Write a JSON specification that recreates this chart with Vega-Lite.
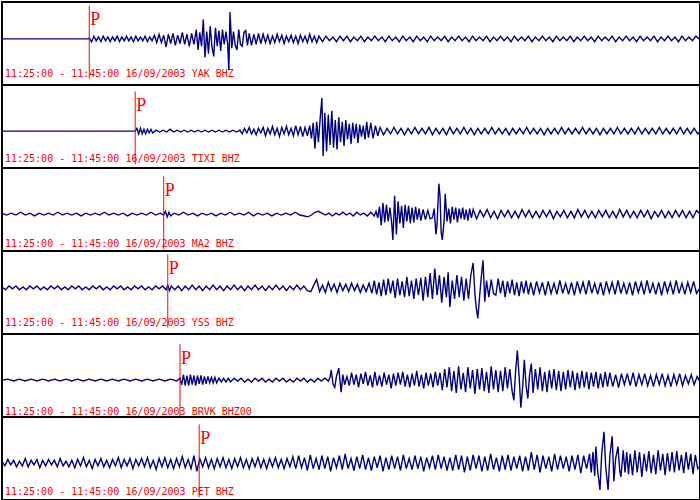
{
"$schema":"https://vega.github.io/schema/vega-lite/v6.json",
"padding":{"left":1,"right":1,"top":1,"bottom":1},
"spacing":0,
"bounds":"flush",
"config":{"view":{"stroke":"#000000","strokeWidth":2},"line":{"strokeWidth":1.4}},
"datasets":{
"yak":[{"t":0,"a":0},{"t":148,"a":0},{"t":150,"a":1},{"t":154,"a":-3},{"t":158,"a":3},{"t":162,"a":-2},{"t":166,"a":2},{"t":170,"a":-3},{"t":174,"a":3},{"t":178,"a":-2},{"t":182,"a":2},{"t":186,"a":-3},{"t":190,"a":2},{"t":194,"a":-2},{"t":198,"a":3},{"t":202,"a":-3},{"t":206,"a":2},{"t":210,"a":-2},{"t":214,"a":3},{"t":218,"a":-2},{"t":222,"a":2},{"t":226,"a":-3},{"t":230,"a":3},{"t":234,"a":-2},{"t":238,"a":2},{"t":242,"a":-2},{"t":246,"a":3},{"t":250,"a":-3},{"t":254,"a":2},{"t":258,"a":-2},{"t":262,"a":4},{"t":266,"a":-4},{"t":270,"a":5},{"t":274,"a":-4},{"t":278,"a":4},{"t":282,"a":-9},{"t":286,"a":5},{"t":290,"a":-5},{"t":294,"a":6},{"t":298,"a":-7},{"t":302,"a":4},{"t":306,"a":-5},{"t":310,"a":7},{"t":314,"a":-6},{"t":318,"a":5},{"t":322,"a":-8},{"t":326,"a":6},{"t":330,"a":-6},{"t":334,"a":10},{"t":337,"a":-12},{"t":340,"a":7},{"t":343,"a":-8},{"t":346,"a":21},{"t":349,"a":-20},{"t":352,"a":8},{"t":355,"a":-16},{"t":358,"a":14},{"t":361,"a":-9},{"t":364,"a":-19},{"t":367,"a":12},{"t":370,"a":-8},{"t":373,"a":9},{"t":376,"a":-13},{"t":379,"a":10},{"t":382,"a":-6},{"t":385,"a":8},{"t":388,"a":-6},{"t":390,"a":-34},{"t":392,"a":29},{"t":395,"a":-10},{"t":398,"a":8},{"t":401,"a":-7},{"t":404,"a":-12},{"t":407,"a":10},{"t":410,"a":-6},{"t":413,"a":-8},{"t":416,"a":7},{"t":419,"a":9},{"t":422,"a":-7},{"t":425,"a":6},{"t":429,"a":-7},{"t":433,"a":5},{"t":437,"a":-6},{"t":441,"a":6},{"t":445,"a":-5},{"t":449,"a":5},{"t":453,"a":-4},{"t":457,"a":4},{"t":461,"a":-5},{"t":465,"a":3},{"t":469,"a":-4},{"t":473,"a":5},{"t":477,"a":-3},{"t":481,"a":4},{"t":485,"a":-5},{"t":489,"a":3},{"t":493,"a":-3},{"t":497,"a":4},{"t":501,"a":-4},{"t":505,"a":3},{"t":509,"a":-5},{"t":513,"a":4},{"t":517,"a":-3},{"t":521,"a":3},{"t":525,"a":-4},{"t":529,"a":5},{"t":533,"a":-3},{"t":537,"a":3},{"t":541,"a":-4},{"t":545,"a":3},{"t":551,"a":-3},{"t":557,"a":3},{"t":563,"a":-2},{"t":569,"a":2},{"t":575,"a":-3},{"t":581,"a":3},{"t":587,"a":-2},{"t":593,"a":3},{"t":599,"a":-3},{"t":605,"a":2},{"t":611,"a":-2},{"t":617,"a":3},{"t":623,"a":-3},{"t":629,"a":2},{"t":635,"a":-2},{"t":641,"a":3},{"t":647,"a":-2},{"t":653,"a":2},{"t":659,"a":-3},{"t":665,"a":3},{"t":671,"a":-2},{"t":677,"a":2},{"t":683,"a":-3},{"t":689,"a":3},{"t":695,"a":-2},{"t":701,"a":2},{"t":707,"a":-3},{"t":713,"a":3},{"t":719,"a":-2},{"t":725,"a":2},{"t":731,"a":-3},{"t":737,"a":3},{"t":743,"a":-2},{"t":749,"a":2},{"t":755,"a":-2},{"t":761,"a":3},{"t":767,"a":-3},{"t":773,"a":2},{"t":779,"a":-2},{"t":785,"a":3},{"t":791,"a":-2},{"t":797,"a":2},{"t":803,"a":-3},{"t":809,"a":3},{"t":815,"a":-2},{"t":821,"a":2},{"t":827,"a":-2},{"t":833,"a":3},{"t":839,"a":-3},{"t":845,"a":2},{"t":851,"a":-2},{"t":857,"a":3},{"t":863,"a":-2},{"t":869,"a":2},{"t":875,"a":-3},{"t":881,"a":3},{"t":887,"a":-2},{"t":893,"a":2},{"t":899,"a":-2},{"t":905,"a":3},{"t":911,"a":-3},{"t":917,"a":2},{"t":923,"a":-2},{"t":929,"a":3},{"t":935,"a":-2},{"t":941,"a":2},{"t":947,"a":-3},{"t":953,"a":3},{"t":959,"a":-2},{"t":965,"a":2},{"t":971,"a":-2},{"t":977,"a":3},{"t":983,"a":-3},{"t":989,"a":2},{"t":995,"a":-2},{"t":1001,"a":3},{"t":1007,"a":-2},{"t":1013,"a":2},{"t":1019,"a":-3},{"t":1025,"a":3},{"t":1031,"a":-2},{"t":1037,"a":2},{"t":1043,"a":-2},{"t":1049,"a":3},{"t":1055,"a":-3},{"t":1061,"a":2},{"t":1067,"a":-2},{"t":1073,"a":3},{"t":1079,"a":-2},{"t":1085,"a":2},{"t":1091,"a":-3},{"t":1097,"a":3},{"t":1103,"a":-2},{"t":1109,"a":2},{"t":1115,"a":-2},{"t":1121,"a":3},{"t":1127,"a":-3},{"t":1133,"a":2},{"t":1139,"a":-2},{"t":1145,"a":3},{"t":1151,"a":-2},{"t":1157,"a":2},{"t":1163,"a":-3},{"t":1169,"a":3},{"t":1175,"a":-2},{"t":1181,"a":2},{"t":1187,"a":-2},{"t":1193,"a":3},{"t":1200,"a":-1}],
"tixi":[{"t":0,"a":0},{"t":229,"a":0},{"t":232,"a":3},{"t":235,"a":-3},{"t":238,"a":3},{"t":241,"a":-3},{"t":244,"a":2},{"t":247,"a":-3},{"t":250,"a":2},{"t":253,"a":-2},{"t":256,"a":2},{"t":259,"a":-2},{"t":265,"a":1},{"t":271,"a":-1},{"t":277,"a":1},{"t":283,"a":-1},{"t":289,"a":2},{"t":295,"a":-1},{"t":301,"a":1},{"t":307,"a":-1},{"t":313,"a":1},{"t":319,"a":-1},{"t":325,"a":1},{"t":331,"a":-1},{"t":337,"a":1},{"t":343,"a":-1},{"t":349,"a":1},{"t":355,"a":-1},{"t":361,"a":1},{"t":367,"a":-1},{"t":373,"a":1},{"t":379,"a":-1},{"t":385,"a":1},{"t":391,"a":-1},{"t":397,"a":1},{"t":403,"a":-1},{"t":409,"a":1},{"t":413,"a":-3},{"t":417,"a":3},{"t":421,"a":-2},{"t":425,"a":4},{"t":429,"a":-3},{"t":433,"a":2},{"t":437,"a":-4},{"t":441,"a":3},{"t":445,"a":-2},{"t":449,"a":4},{"t":453,"a":-5},{"t":457,"a":3},{"t":461,"a":-3},{"t":465,"a":5},{"t":469,"a":-4},{"t":473,"a":3},{"t":477,"a":-6},{"t":481,"a":4},{"t":485,"a":-3},{"t":489,"a":5},{"t":493,"a":-4},{"t":497,"a":3},{"t":501,"a":-5},{"t":505,"a":6},{"t":509,"a":-4},{"t":513,"a":5},{"t":517,"a":-6},{"t":521,"a":4},{"t":525,"a":-5},{"t":529,"a":6},{"t":532,"a":-8},{"t":535,"a":9},{"t":538,"a":-19},{"t":541,"a":10},{"t":544,"a":-12},{"t":547,"a":14},{"t":550,"a":36},{"t":552,"a":-27},{"t":555,"a":20},{"t":558,"a":-22},{"t":561,"a":18},{"t":564,"a":-15},{"t":567,"a":22},{"t":570,"a":-18},{"t":573,"a":12},{"t":576,"a":-20},{"t":579,"a":15},{"t":582,"a":-12},{"t":585,"a":10},{"t":588,"a":-16},{"t":591,"a":12},{"t":594,"a":-9},{"t":597,"a":8},{"t":600,"a":-14},{"t":603,"a":9},{"t":606,"a":-8},{"t":609,"a":8},{"t":612,"a":-13},{"t":615,"a":7},{"t":618,"a":-6},{"t":621,"a":6},{"t":624,"a":-9},{"t":627,"a":10},{"t":630,"a":-7},{"t":634,"a":9},{"t":638,"a":-8},{"t":642,"a":6},{"t":646,"a":-5},{"t":650,"a":4},{"t":656,"a":-4},{"t":662,"a":3},{"t":668,"a":-3},{"t":674,"a":4},{"t":680,"a":-3},{"t":686,"a":3},{"t":692,"a":-4},{"t":698,"a":3},{"t":704,"a":-3},{"t":710,"a":4},{"t":716,"a":-3},{"t":722,"a":3},{"t":728,"a":-3},{"t":734,"a":4},{"t":740,"a":-4},{"t":746,"a":3},{"t":752,"a":-3},{"t":758,"a":3},{"t":764,"a":-4},{"t":770,"a":4},{"t":776,"a":-3},{"t":782,"a":3},{"t":788,"a":-3},{"t":794,"a":4},{"t":800,"a":-3},{"t":806,"a":3},{"t":812,"a":-4},{"t":818,"a":3},{"t":824,"a":-3},{"t":830,"a":3},{"t":836,"a":-3},{"t":842,"a":4},{"t":848,"a":-3},{"t":854,"a":3},{"t":860,"a":-3},{"t":866,"a":3},{"t":872,"a":-4},{"t":878,"a":3},{"t":884,"a":-3},{"t":890,"a":3},{"t":896,"a":-3},{"t":902,"a":4},{"t":908,"a":-3},{"t":914,"a":3},{"t":920,"a":-3},{"t":926,"a":3},{"t":932,"a":-4},{"t":938,"a":3},{"t":944,"a":-3},{"t":950,"a":3},{"t":956,"a":-3},{"t":962,"a":4},{"t":968,"a":-3},{"t":974,"a":3},{"t":980,"a":-3},{"t":986,"a":3},{"t":992,"a":-3},{"t":998,"a":4},{"t":1004,"a":-3},{"t":1010,"a":3},{"t":1016,"a":-3},{"t":1022,"a":3},{"t":1028,"a":-4},{"t":1034,"a":3},{"t":1040,"a":-3},{"t":1046,"a":3},{"t":1052,"a":-3},{"t":1058,"a":4},{"t":1064,"a":-3},{"t":1070,"a":3},{"t":1076,"a":-3},{"t":1082,"a":3},{"t":1088,"a":-3},{"t":1094,"a":4},{"t":1100,"a":-3},{"t":1106,"a":3},{"t":1112,"a":-3},{"t":1118,"a":3},{"t":1124,"a":-3},{"t":1130,"a":4},{"t":1136,"a":-3},{"t":1142,"a":3},{"t":1148,"a":-3},{"t":1154,"a":3},{"t":1160,"a":-3},{"t":1166,"a":4},{"t":1172,"a":-3},{"t":1178,"a":3},{"t":1184,"a":-3},{"t":1190,"a":3},{"t":1196,"a":-3},{"t":1200,"a":0}],
"ma2":[{"t":0,"a":1},{"t":8,"a":-1},{"t":16,"a":1},{"t":24,"a":-1},{"t":32,"a":2},{"t":40,"a":-1},{"t":48,"a":1},{"t":56,"a":-2},{"t":64,"a":1},{"t":72,"a":-1},{"t":80,"a":1},{"t":88,"a":-1},{"t":96,"a":2},{"t":104,"a":-1},{"t":112,"a":1},{"t":120,"a":-1},{"t":128,"a":1},{"t":136,"a":-2},{"t":144,"a":1},{"t":152,"a":-1},{"t":160,"a":1},{"t":168,"a":-1},{"t":176,"a":2},{"t":184,"a":-1},{"t":192,"a":1},{"t":200,"a":-1},{"t":208,"a":1},{"t":216,"a":-2},{"t":224,"a":1},{"t":232,"a":-1},{"t":240,"a":1},{"t":248,"a":-1},{"t":256,"a":2},{"t":264,"a":-1},{"t":272,"a":1},{"t":278,"a":-1},{"t":281,"a":3},{"t":284,"a":-3},{"t":287,"a":2},{"t":290,"a":-2},{"t":296,"a":1},{"t":304,"a":-1},{"t":312,"a":2},{"t":320,"a":-1},{"t":328,"a":1},{"t":336,"a":-2},{"t":344,"a":1},{"t":352,"a":-1},{"t":360,"a":1},{"t":368,"a":-2},{"t":376,"a":1},{"t":384,"a":-1},{"t":392,"a":2},{"t":400,"a":-1},{"t":408,"a":1},{"t":416,"a":-1},{"t":424,"a":2},{"t":432,"a":-2},{"t":440,"a":1},{"t":448,"a":-1},{"t":456,"a":1},{"t":464,"a":-2},{"t":472,"a":1},{"t":480,"a":-1},{"t":488,"a":1},{"t":496,"a":-1},{"t":504,"a":2},{"t":512,"a":-1},{"t":520,"a":-2},{"t":526,"a":-3},{"t":532,"a":-1},{"t":538,"a":2},{"t":544,"a":3},{"t":550,"a":1},{"t":556,"a":-1},{"t":562,"a":1},{"t":568,"a":-2},{"t":574,"a":1},{"t":580,"a":-1},{"t":586,"a":2},{"t":592,"a":-1},{"t":598,"a":1},{"t":604,"a":-2},{"t":610,"a":2},{"t":616,"a":-1},{"t":622,"a":1},{"t":628,"a":-2},{"t":634,"a":2},{"t":640,"a":-2},{"t":643,"a":3},{"t":646,"a":-4},{"t":649,"a":8},{"t":652,"a":-12},{"t":655,"a":12},{"t":658,"a":-9},{"t":661,"a":10},{"t":664,"a":-8},{"t":667,"a":7},{"t":670,"a":-10},{"t":672,"a":-28},{"t":675,"a":20},{"t":678,"a":-22},{"t":681,"a":14},{"t":684,"a":-10},{"t":687,"a":9},{"t":690,"a":-15},{"t":693,"a":10},{"t":696,"a":-8},{"t":699,"a":9},{"t":702,"a":-10},{"t":705,"a":7},{"t":708,"a":-9},{"t":711,"a":8},{"t":714,"a":-6},{"t":717,"a":6},{"t":720,"a":-7},{"t":724,"a":5},{"t":728,"a":-6},{"t":732,"a":4},{"t":736,"a":-5},{"t":740,"a":-4},{"t":743,"a":6},{"t":746,"a":-22},{"t":748,"a":-10},{"t":751,"a":33},{"t":753,"a":20},{"t":755,"a":-20},{"t":757,"a":-28},{"t":760,"a":-8},{"t":762,"a":22},{"t":765,"a":-8},{"t":768,"a":6},{"t":771,"a":-10},{"t":774,"a":8},{"t":777,"a":-6},{"t":780,"a":7},{"t":783,"a":-9},{"t":786,"a":6},{"t":789,"a":-5},{"t":792,"a":7},{"t":795,"a":-6},{"t":798,"a":5},{"t":801,"a":-7},{"t":804,"a":6},{"t":807,"a":-4},{"t":810,"a":5},{"t":816,"a":-5},{"t":822,"a":4},{"t":828,"a":-3},{"t":834,"a":5},{"t":840,"a":-4},{"t":846,"a":3},{"t":852,"a":-5},{"t":858,"a":4},{"t":864,"a":-3},{"t":870,"a":4},{"t":876,"a":-4},{"t":882,"a":3},{"t":888,"a":-4},{"t":894,"a":5},{"t":900,"a":-3},{"t":906,"a":4},{"t":912,"a":-4},{"t":918,"a":3},{"t":924,"a":-4},{"t":930,"a":4},{"t":936,"a":-3},{"t":942,"a":4},{"t":948,"a":-5},{"t":954,"a":3},{"t":960,"a":-3},{"t":966,"a":4},{"t":972,"a":-4},{"t":978,"a":3},{"t":984,"a":-4},{"t":990,"a":5},{"t":996,"a":-3},{"t":1002,"a":4},{"t":1008,"a":-4},{"t":1014,"a":3},{"t":1020,"a":-4},{"t":1026,"a":4},{"t":1032,"a":-3},{"t":1038,"a":4},{"t":1044,"a":-4},{"t":1050,"a":3},{"t":1056,"a":-4},{"t":1062,"a":5},{"t":1068,"a":-3},{"t":1074,"a":4},{"t":1080,"a":-4},{"t":1086,"a":3},{"t":1092,"a":-4},{"t":1098,"a":4},{"t":1104,"a":-3},{"t":1110,"a":4},{"t":1116,"a":-5},{"t":1122,"a":3},{"t":1128,"a":-3},{"t":1134,"a":4},{"t":1140,"a":-4},{"t":1146,"a":3},{"t":1152,"a":-4},{"t":1158,"a":4},{"t":1164,"a":-3},{"t":1170,"a":4},{"t":1176,"a":-4},{"t":1182,"a":3},{"t":1188,"a":-4},{"t":1194,"a":4},{"t":1200,"a":0}],
"yss":[{"t":0,"a":1},{"t":6,"a":-2},{"t":12,"a":2},{"t":18,"a":-1},{"t":24,"a":2},{"t":30,"a":-2},{"t":36,"a":1},{"t":42,"a":-2},{"t":48,"a":2},{"t":54,"a":-1},{"t":60,"a":2},{"t":66,"a":-2},{"t":72,"a":1},{"t":78,"a":-2},{"t":84,"a":2},{"t":90,"a":-1},{"t":96,"a":2},{"t":102,"a":-2},{"t":108,"a":1},{"t":114,"a":-2},{"t":120,"a":2},{"t":126,"a":-1},{"t":132,"a":2},{"t":138,"a":-2},{"t":144,"a":1},{"t":150,"a":-2},{"t":156,"a":2},{"t":162,"a":-1},{"t":168,"a":2},{"t":174,"a":-2},{"t":180,"a":1},{"t":186,"a":-2},{"t":192,"a":2},{"t":198,"a":-1},{"t":204,"a":2},{"t":210,"a":-2},{"t":216,"a":1},{"t":222,"a":-2},{"t":228,"a":2},{"t":234,"a":-1},{"t":240,"a":2},{"t":246,"a":-2},{"t":252,"a":1},{"t":258,"a":-2},{"t":264,"a":2},{"t":270,"a":-1},{"t":276,"a":2},{"t":282,"a":-2},{"t":285,"a":3},{"t":288,"a":-3},{"t":291,"a":2},{"t":297,"a":-2},{"t":303,"a":2},{"t":309,"a":-3},{"t":315,"a":2},{"t":321,"a":-2},{"t":327,"a":3},{"t":333,"a":-2},{"t":339,"a":2},{"t":345,"a":-3},{"t":351,"a":2},{"t":357,"a":-2},{"t":363,"a":3},{"t":369,"a":-2},{"t":375,"a":2},{"t":381,"a":-3},{"t":387,"a":2},{"t":393,"a":-2},{"t":399,"a":3},{"t":405,"a":-2},{"t":411,"a":2},{"t":417,"a":-3},{"t":423,"a":2},{"t":429,"a":-2},{"t":435,"a":3},{"t":441,"a":-2},{"t":447,"a":2},{"t":453,"a":-3},{"t":459,"a":2},{"t":465,"a":-2},{"t":471,"a":3},{"t":477,"a":-2},{"t":483,"a":2},{"t":489,"a":-3},{"t":495,"a":2},{"t":501,"a":-2},{"t":507,"a":3},{"t":513,"a":-2},{"t":519,"a":2},{"t":525,"a":-3},{"t":531,"a":-4},{"t":536,"a":3},{"t":541,"a":9},{"t":546,"a":-4},{"t":551,"a":3},{"t":556,"a":-5},{"t":561,"a":6},{"t":566,"a":-3},{"t":571,"a":4},{"t":576,"a":-5},{"t":581,"a":5},{"t":586,"a":-3},{"t":591,"a":4},{"t":596,"a":-4},{"t":601,"a":5},{"t":606,"a":-3},{"t":611,"a":4},{"t":616,"a":-5},{"t":621,"a":3},{"t":626,"a":-4},{"t":631,"a":5},{"t":636,"a":-6},{"t":640,"a":8},{"t":644,"a":-7},{"t":648,"a":6},{"t":652,"a":-9},{"t":656,"a":9},{"t":660,"a":-8},{"t":664,"a":10},{"t":668,"a":-6},{"t":672,"a":8},{"t":676,"a":-11},{"t":680,"a":10},{"t":684,"a":-8},{"t":688,"a":7},{"t":692,"a":-10},{"t":696,"a":12},{"t":700,"a":-9},{"t":704,"a":8},{"t":708,"a":-12},{"t":712,"a":10},{"t":716,"a":-8},{"t":720,"a":11},{"t":724,"a":-14},{"t":728,"a":12},{"t":732,"a":-10},{"t":736,"a":16},{"t":740,"a":-12},{"t":744,"a":21},{"t":748,"a":-8},{"t":752,"a":14},{"t":756,"a":-16},{"t":760,"a":12},{"t":764,"a":-10},{"t":767,"a":17},{"t":770,"a":-21},{"t":774,"a":8},{"t":778,"a":-12},{"t":782,"a":14},{"t":786,"a":-10},{"t":790,"a":12},{"t":794,"a":-14},{"t":798,"a":10},{"t":802,"a":-12},{"t":806,"a":14},{"t":810,"a":27},{"t":813,"a":-6},{"t":815,"a":-20},{"t":818,"a":-33},{"t":821,"a":-10},{"t":824,"a":12},{"t":827,"a":30},{"t":830,"a":-15},{"t":833,"a":8},{"t":837,"a":-10},{"t":841,"a":9},{"t":845,"a":-6},{"t":849,"a":-8},{"t":853,"a":10},{"t":857,"a":-6},{"t":861,"a":8},{"t":865,"a":-10},{"t":869,"a":7},{"t":873,"a":-6},{"t":877,"a":9},{"t":881,"a":-8},{"t":885,"a":6},{"t":889,"a":-9},{"t":893,"a":7},{"t":897,"a":-6},{"t":901,"a":8},{"t":905,"a":-7},{"t":909,"a":6},{"t":914,"a":-8},{"t":919,"a":7},{"t":924,"a":-5},{"t":929,"a":6},{"t":934,"a":-8},{"t":939,"a":7},{"t":944,"a":-6},{"t":949,"a":5},{"t":954,"a":-7},{"t":959,"a":8},{"t":964,"a":-6},{"t":969,"a":5},{"t":974,"a":-7},{"t":979,"a":6},{"t":984,"a":-8},{"t":989,"a":7},{"t":994,"a":-5},{"t":999,"a":6},{"t":1004,"a":-7},{"t":1009,"a":8},{"t":1014,"a":-6},{"t":1019,"a":5},{"t":1024,"a":-7},{"t":1029,"a":6},{"t":1034,"a":-8},{"t":1039,"a":7},{"t":1044,"a":-5},{"t":1049,"a":6},{"t":1054,"a":-7},{"t":1059,"a":8},{"t":1064,"a":-6},{"t":1069,"a":5},{"t":1074,"a":-7},{"t":1079,"a":6},{"t":1084,"a":-8},{"t":1089,"a":7},{"t":1094,"a":-5},{"t":1099,"a":6},{"t":1104,"a":-7},{"t":1109,"a":8},{"t":1114,"a":-6},{"t":1119,"a":5},{"t":1124,"a":-7},{"t":1129,"a":6},{"t":1134,"a":-8},{"t":1139,"a":7},{"t":1144,"a":-5},{"t":1149,"a":6},{"t":1154,"a":-7},{"t":1159,"a":8},{"t":1164,"a":-6},{"t":1169,"a":5},{"t":1174,"a":-7},{"t":1179,"a":6},{"t":1184,"a":-5},{"t":1189,"a":7},{"t":1194,"a":-6},{"t":1200,"a":0}],
"brvk":[{"t":0,"a":0},{"t":10,"a":1},{"t":20,"a":-1},{"t":30,"a":1},{"t":40,"a":-1},{"t":50,"a":1},{"t":60,"a":-1},{"t":70,"a":1},{"t":80,"a":-1},{"t":90,"a":1},{"t":100,"a":-1},{"t":110,"a":1},{"t":120,"a":-1},{"t":130,"a":1},{"t":140,"a":-1},{"t":150,"a":1},{"t":160,"a":-1},{"t":170,"a":1},{"t":180,"a":-1},{"t":190,"a":1},{"t":200,"a":-1},{"t":210,"a":1},{"t":220,"a":-1},{"t":230,"a":1},{"t":240,"a":-1},{"t":250,"a":1},{"t":260,"a":-1},{"t":270,"a":1},{"t":280,"a":-1},{"t":290,"a":1},{"t":300,"a":-1},{"t":306,"a":2},{"t":309,"a":-5},{"t":312,"a":6},{"t":315,"a":-6},{"t":318,"a":5},{"t":321,"a":-6},{"t":324,"a":6},{"t":327,"a":-5},{"t":330,"a":5},{"t":333,"a":-6},{"t":336,"a":5},{"t":339,"a":-4},{"t":342,"a":5},{"t":345,"a":-5},{"t":348,"a":4},{"t":351,"a":-4},{"t":354,"a":4},{"t":357,"a":-3},{"t":360,"a":3},{"t":363,"a":-3},{"t":366,"a":3},{"t":369,"a":-3},{"t":373,"a":2},{"t":377,"a":-2},{"t":381,"a":2},{"t":385,"a":-2},{"t":389,"a":2},{"t":393,"a":-2},{"t":399,"a":2},{"t":405,"a":-1},{"t":411,"a":2},{"t":417,"a":-2},{"t":423,"a":1},{"t":429,"a":-2},{"t":435,"a":2},{"t":441,"a":-1},{"t":447,"a":2},{"t":453,"a":-2},{"t":459,"a":1},{"t":465,"a":-2},{"t":471,"a":2},{"t":477,"a":-1},{"t":483,"a":2},{"t":489,"a":-2},{"t":495,"a":1},{"t":501,"a":-2},{"t":507,"a":2},{"t":513,"a":-1},{"t":519,"a":2},{"t":525,"a":-2},{"t":531,"a":1},{"t":537,"a":-2},{"t":543,"a":2},{"t":549,"a":-1},{"t":555,"a":2},{"t":561,"a":-1},{"t":564,"a":3},{"t":566,"a":11},{"t":569,"a":-4},{"t":572,"a":-8},{"t":575,"a":4},{"t":579,"a":13},{"t":583,"a":-13},{"t":586,"a":6},{"t":589,"a":-5},{"t":593,"a":4},{"t":597,"a":-6},{"t":601,"a":8},{"t":605,"a":-5},{"t":609,"a":6},{"t":613,"a":-8},{"t":617,"a":7},{"t":621,"a":-4},{"t":625,"a":9},{"t":629,"a":-6},{"t":633,"a":5},{"t":637,"a":-8},{"t":641,"a":9},{"t":645,"a":-6},{"t":649,"a":5},{"t":653,"a":-7},{"t":657,"a":8},{"t":661,"a":-5},{"t":665,"a":6},{"t":669,"a":-9},{"t":673,"a":7},{"t":677,"a":-6},{"t":681,"a":8},{"t":685,"a":-5},{"t":689,"a":9},{"t":693,"a":-7},{"t":697,"a":6},{"t":701,"a":-8},{"t":705,"a":7},{"t":709,"a":-6},{"t":713,"a":10},{"t":717,"a":-7},{"t":721,"a":6},{"t":725,"a":-9},{"t":729,"a":8},{"t":733,"a":-6},{"t":737,"a":7},{"t":741,"a":-8},{"t":745,"a":9},{"t":749,"a":-6},{"t":753,"a":8},{"t":757,"a":-11},{"t":761,"a":12},{"t":765,"a":-8},{"t":769,"a":14},{"t":773,"a":-12},{"t":777,"a":10},{"t":781,"a":-14},{"t":785,"a":15},{"t":789,"a":-10},{"t":793,"a":8},{"t":797,"a":-13},{"t":801,"a":14},{"t":805,"a":-9},{"t":809,"a":11},{"t":813,"a":-15},{"t":817,"a":12},{"t":821,"a":-10},{"t":825,"a":13},{"t":829,"a":-12},{"t":833,"a":9},{"t":837,"a":-14},{"t":841,"a":15},{"t":845,"a":-10},{"t":849,"a":11},{"t":853,"a":-13},{"t":857,"a":10},{"t":861,"a":-12},{"t":865,"a":14},{"t":869,"a":-9},{"t":873,"a":12},{"t":877,"a":-12},{"t":880,"a":-22},{"t":883,"a":10},{"t":886,"a":32},{"t":889,"a":4},{"t":892,"a":-30},{"t":895,"a":-8},{"t":898,"a":22},{"t":901,"a":-6},{"t":904,"a":-20},{"t":907,"a":6},{"t":910,"a":18},{"t":913,"a":-14},{"t":917,"a":12},{"t":921,"a":-10},{"t":925,"a":14},{"t":929,"a":-12},{"t":933,"a":9},{"t":937,"a":-13},{"t":941,"a":11},{"t":945,"a":-9},{"t":949,"a":12},{"t":953,"a":-11},{"t":957,"a":10},{"t":961,"a":-12},{"t":965,"a":9},{"t":969,"a":-10},{"t":973,"a":11},{"t":977,"a":-8},{"t":981,"a":10},{"t":985,"a":-11},{"t":989,"a":8},{"t":993,"a":-9},{"t":997,"a":10},{"t":1001,"a":-8},{"t":1005,"a":9},{"t":1009,"a":-10},{"t":1013,"a":8},{"t":1017,"a":-7},{"t":1021,"a":9},{"t":1025,"a":-9},{"t":1029,"a":7},{"t":1033,"a":-8},{"t":1037,"a":9},{"t":1041,"a":-7},{"t":1045,"a":8},{"t":1050,"a":-7},{"t":1055,"a":6},{"t":1060,"a":-8},{"t":1065,"a":7},{"t":1070,"a":-5},{"t":1075,"a":7},{"t":1080,"a":-6},{"t":1085,"a":8},{"t":1090,"a":-7},{"t":1095,"a":6},{"t":1100,"a":-5},{"t":1105,"a":7},{"t":1110,"a":-6},{"t":1115,"a":5},{"t":1120,"a":-7},{"t":1125,"a":6},{"t":1130,"a":-5},{"t":1135,"a":7},{"t":1140,"a":-6},{"t":1145,"a":5},{"t":1150,"a":-7},{"t":1155,"a":6},{"t":1160,"a":-5},{"t":1165,"a":7},{"t":1170,"a":-6},{"t":1175,"a":5},{"t":1180,"a":-4},{"t":1185,"a":6},{"t":1190,"a":-5},{"t":1195,"a":4},{"t":1200,"a":-2}],
"pet":[{"t":0,"a":2},{"t":5,"a":-3},{"t":10,"a":4},{"t":15,"a":-2},{"t":20,"a":3},{"t":25,"a":-4},{"t":30,"a":2},{"t":35,"a":-3},{"t":40,"a":5},{"t":45,"a":-4},{"t":50,"a":3},{"t":55,"a":-2},{"t":60,"a":4},{"t":65,"a":-5},{"t":70,"a":3},{"t":75,"a":-3},{"t":80,"a":4},{"t":85,"a":-2},{"t":90,"a":3},{"t":95,"a":-4},{"t":100,"a":5},{"t":105,"a":-3},{"t":110,"a":2},{"t":115,"a":-4},{"t":120,"a":3},{"t":125,"a":-5},{"t":130,"a":4},{"t":135,"a":-3},{"t":140,"a":6},{"t":145,"a":-4},{"t":150,"a":3},{"t":155,"a":-6},{"t":160,"a":4},{"t":165,"a":-3},{"t":170,"a":5},{"t":175,"a":-4},{"t":180,"a":3},{"t":185,"a":-5},{"t":190,"a":4},{"t":195,"a":-3},{"t":200,"a":6},{"t":205,"a":-5},{"t":210,"a":4},{"t":215,"a":-3},{"t":220,"a":5},{"t":225,"a":-6},{"t":230,"a":4},{"t":235,"a":-3},{"t":240,"a":5},{"t":245,"a":-4},{"t":250,"a":6},{"t":255,"a":-5},{"t":260,"a":3},{"t":265,"a":-7},{"t":270,"a":5},{"t":275,"a":-4},{"t":280,"a":6},{"t":285,"a":-5},{"t":290,"a":4},{"t":295,"a":-6},{"t":300,"a":5},{"t":305,"a":-4},{"t":310,"a":7},{"t":315,"a":-5},{"t":320,"a":4},{"t":325,"a":-6},{"t":330,"a":8},{"t":335,"a":-9},{"t":340,"a":5},{"t":345,"a":-4},{"t":350,"a":6},{"t":355,"a":-5},{"t":360,"a":4},{"t":365,"a":-6},{"t":370,"a":5},{"t":375,"a":-4},{"t":380,"a":6},{"t":385,"a":-5},{"t":390,"a":4},{"t":395,"a":-6},{"t":400,"a":5},{"t":405,"a":-4},{"t":410,"a":6},{"t":415,"a":-5},{"t":420,"a":4},{"t":425,"a":-6},{"t":430,"a":5},{"t":435,"a":-4},{"t":440,"a":6},{"t":445,"a":-5},{"t":450,"a":4},{"t":455,"a":-6},{"t":460,"a":5},{"t":465,"a":-4},{"t":470,"a":6},{"t":475,"a":-5},{"t":480,"a":4},{"t":485,"a":-6},{"t":490,"a":5},{"t":495,"a":-4},{"t":500,"a":7},{"t":505,"a":-6},{"t":510,"a":8},{"t":515,"a":-5},{"t":520,"a":6},{"t":525,"a":-8},{"t":530,"a":9},{"t":535,"a":-6},{"t":540,"a":5},{"t":545,"a":-7},{"t":550,"a":8},{"t":555,"a":-6},{"t":560,"a":7},{"t":565,"a":-9},{"t":570,"a":6},{"t":575,"a":-5},{"t":580,"a":8},{"t":585,"a":-7},{"t":590,"a":10},{"t":595,"a":-6},{"t":600,"a":5},{"t":605,"a":-8},{"t":610,"a":7},{"t":615,"a":-6},{"t":620,"a":9},{"t":625,"a":-7},{"t":630,"a":6},{"t":635,"a":-8},{"t":640,"a":7},{"t":645,"a":-5},{"t":650,"a":8},{"t":655,"a":-9},{"t":660,"a":6},{"t":665,"a":-7},{"t":670,"a":8},{"t":675,"a":-6},{"t":680,"a":7},{"t":685,"a":-8},{"t":690,"a":9},{"t":695,"a":-6},{"t":700,"a":5},{"t":705,"a":-7},{"t":710,"a":8},{"t":715,"a":-6},{"t":720,"a":7},{"t":725,"a":-9},{"t":730,"a":6},{"t":735,"a":-5},{"t":740,"a":8},{"t":745,"a":-7},{"t":750,"a":9},{"t":755,"a":-6},{"t":760,"a":7},{"t":765,"a":-8},{"t":770,"a":6},{"t":775,"a":-8},{"t":780,"a":9},{"t":785,"a":-7},{"t":790,"a":8},{"t":795,"a":-10},{"t":800,"a":7},{"t":805,"a":-8},{"t":810,"a":9},{"t":815,"a":-6},{"t":820,"a":8},{"t":825,"a":-9},{"t":830,"a":7},{"t":835,"a":-8},{"t":840,"a":10},{"t":845,"a":-7},{"t":850,"a":6},{"t":855,"a":-9},{"t":860,"a":8},{"t":865,"a":-7},{"t":870,"a":9},{"t":875,"a":-8},{"t":880,"a":7},{"t":885,"a":-6},{"t":890,"a":8},{"t":895,"a":-9},{"t":900,"a":7},{"t":905,"a":-8},{"t":910,"a":12},{"t":915,"a":-7},{"t":920,"a":9},{"t":925,"a":-10},{"t":930,"a":8},{"t":935,"a":-6},{"t":940,"a":7},{"t":945,"a":-9},{"t":950,"a":10},{"t":955,"a":-7},{"t":960,"a":8},{"t":965,"a":-6},{"t":970,"a":7},{"t":975,"a":-9},{"t":980,"a":8},{"t":985,"a":-7},{"t":990,"a":9},{"t":995,"a":-11},{"t":1000,"a":8},{"t":1005,"a":-6},{"t":1010,"a":10},{"t":1013,"a":-10},{"t":1016,"a":12},{"t":1019,"a":-14},{"t":1021,"a":18},{"t":1024,"a":-8},{"t":1028,"a":-29},{"t":1031,"a":10},{"t":1035,"a":34},{"t":1038,"a":-5},{"t":1042,"a":-29},{"t":1045,"a":8},{"t":1049,"a":29},{"t":1052,"a":-20},{"t":1055,"a":5},{"t":1059,"a":18},{"t":1062,"a":-8},{"t":1064,"a":-15},{"t":1068,"a":14},{"t":1071,"a":-10},{"t":1074,"a":12},{"t":1077,"a":-12},{"t":1080,"a":10},{"t":1084,"a":-13},{"t":1088,"a":14},{"t":1092,"a":-10},{"t":1096,"a":12},{"t":1100,"a":-15},{"t":1104,"a":10},{"t":1108,"a":-9},{"t":1112,"a":13},{"t":1116,"a":-11},{"t":1120,"a":9},{"t":1124,"a":-12},{"t":1128,"a":14},{"t":1132,"a":-8},{"t":1136,"a":10},{"t":1140,"a":-13},{"t":1144,"a":11},{"t":1148,"a":-9},{"t":1152,"a":12},{"t":1156,"a":-10},{"t":1160,"a":13},{"t":1164,"a":-8},{"t":1168,"a":9},{"t":1172,"a":-11},{"t":1176,"a":12},{"t":1180,"a":-7},{"t":1184,"a":10},{"t":1188,"a":-12},{"t":1192,"a":9},{"t":1196,"a":-6},{"t":1200,"a":-3}]
},
"vconcat":[
{"width":698,"height":83,"layer":[
 {"data":{"name":"yak"},"mark":{"type":"line","color":"#000080","strokeWidth":1.4,"clip":true},"encoding":{"x":{"field":"t","type":"quantitative","scale":{"domain":[0,1200]},"axis":null},"y":{"field":"a","type":"quantitative","scale":{"domain":[-43,40]},"axis":null}}},
 {"data":{"values":[{"p":150,"lab":"11:25:00 - 11:45:00 16/09/2003 YAK BHZ"}]},"layer":[
  {"mark":{"type":"rule","color":"#ff0000","strokeWidth":1},"encoding":{"x":{"field":"p","type":"quantitative"},"y":{"datum":36},"y2":{"datum":-43}}},
  {"mark":{"type":"text","text":"P","color":"#ff0000","font":"Liberation Serif","fontSize":18,"align":"left","baseline":"alphabetic","dx":1},"encoding":{"x":{"field":"p","type":"quantitative"},"y":{"datum":15}}},
  {"mark":{"type":"text","color":"#ff0000","font":"DejaVu Sans Mono","fontSize":10,"align":"left","baseline":"bottom","dx":3},"encoding":{"text":{"field":"lab"},"x":{"datum":0},"y":{"datum":-43}}}
 ]}
]},
{"width":698,"height":83,"layer":[
 {"data":{"name":"tixi"},"mark":{"type":"line","color":"#000080","strokeWidth":1.4,"clip":true},"encoding":{"x":{"field":"t","type":"quantitative","scale":{"domain":[0,1200]},"axis":null},"y":{"field":"a","type":"quantitative","scale":{"domain":[-36,47]},"axis":null}}},
 {"data":{"values":[{"p":229,"lab":"11:25:00 - 11:45:00 16/09/2003 TIXI BHZ"}]},"layer":[
  {"mark":{"type":"rule","color":"#ff0000","strokeWidth":1},"encoding":{"x":{"field":"p","type":"quantitative"},"y":{"datum":43},"y2":{"datum":-36}}},
  {"mark":{"type":"text","text":"P","color":"#ff0000","font":"Liberation Serif","fontSize":18,"align":"left","baseline":"alphabetic","dx":1},"encoding":{"x":{"field":"p","type":"quantitative"},"y":{"datum":22}}},
  {"mark":{"type":"text","color":"#ff0000","font":"DejaVu Sans Mono","fontSize":10,"align":"left","baseline":"bottom","dx":3},"encoding":{"text":{"field":"lab"},"x":{"datum":0},"y":{"datum":-36}}}
 ]}
]},
{"width":698,"height":83,"layer":[
 {"data":{"name":"ma2"},"mark":{"type":"line","color":"#000080","strokeWidth":1.4,"clip":true},"encoding":{"x":{"field":"t","type":"quantitative","scale":{"domain":[0,1200]},"axis":null},"y":{"field":"a","type":"quantitative","scale":{"domain":[-38,45]},"axis":null}}},
 {"data":{"values":[{"p":278,"lab":"11:25:00 - 11:45:00 16/09/2003 MA2 BHZ"}]},"layer":[
  {"mark":{"type":"rule","color":"#ff0000","strokeWidth":1},"encoding":{"x":{"field":"p","type":"quantitative"},"y":{"datum":41},"y2":{"datum":-38}}},
  {"mark":{"type":"text","text":"P","color":"#ff0000","font":"Liberation Serif","fontSize":18,"align":"left","baseline":"alphabetic","dx":1},"encoding":{"x":{"field":"p","type":"quantitative"},"y":{"datum":20}}},
  {"mark":{"type":"text","color":"#ff0000","font":"DejaVu Sans Mono","fontSize":10,"align":"left","baseline":"bottom","dx":3},"encoding":{"text":{"field":"lab"},"x":{"datum":0},"y":{"datum":-38}}}
 ]}
]},
{"width":698,"height":83,"layer":[
 {"data":{"name":"yss"},"mark":{"type":"line","color":"#000080","strokeWidth":1.4,"clip":true},"encoding":{"x":{"field":"t","type":"quantitative","scale":{"domain":[0,1200]},"axis":null},"y":{"field":"a","type":"quantitative","scale":{"domain":[-43,40]},"axis":null}}},
 {"data":{"values":[{"p":285,"lab":"11:25:00 - 11:45:00 16/09/2003 YSS BHZ"}]},"layer":[
  {"mark":{"type":"rule","color":"#ff0000","strokeWidth":1},"encoding":{"x":{"field":"p","type":"quantitative"},"y":{"datum":36},"y2":{"datum":-43}}},
  {"mark":{"type":"text","text":"P","color":"#ff0000","font":"Liberation Serif","fontSize":18,"align":"left","baseline":"alphabetic","dx":1},"encoding":{"x":{"field":"p","type":"quantitative"},"y":{"datum":15}}},
  {"mark":{"type":"text","color":"#ff0000","font":"DejaVu Sans Mono","fontSize":10,"align":"left","baseline":"bottom","dx":3},"encoding":{"text":{"field":"lab"},"x":{"datum":0},"y":{"datum":-43}}}
 ]}
]},
{"width":698,"height":83,"layer":[
 {"data":{"name":"brvk"},"mark":{"type":"line","color":"#000080","strokeWidth":1.4,"clip":true},"encoding":{"x":{"field":"t","type":"quantitative","scale":{"domain":[0,1200]},"axis":null},"y":{"field":"a","type":"quantitative","scale":{"domain":[-40,43]},"axis":null}}},
 {"data":{"values":[{"p":306,"lab":"11:25:00 - 11:45:00 16/09/2003 BRVK BHZ00"}]},"layer":[
  {"mark":{"type":"rule","color":"#ff0000","strokeWidth":1},"encoding":{"x":{"field":"p","type":"quantitative"},"y":{"datum":39},"y2":{"datum":-40}}},
  {"mark":{"type":"text","text":"P","color":"#ff0000","font":"Liberation Serif","fontSize":18,"align":"left","baseline":"alphabetic","dx":1},"encoding":{"x":{"field":"p","type":"quantitative"},"y":{"datum":18}}},
  {"mark":{"type":"text","color":"#ff0000","font":"DejaVu Sans Mono","fontSize":10,"align":"left","baseline":"bottom","dx":3},"encoding":{"text":{"field":"lab"},"x":{"datum":0},"y":{"datum":-40}}}
 ]}
]},
{"width":698,"height":83,"layer":[
 {"data":{"name":"pet"},"mark":{"type":"line","color":"#000080","strokeWidth":1.4,"clip":true},"encoding":{"x":{"field":"t","type":"quantitative","scale":{"domain":[0,1200]},"axis":null},"y":{"field":"a","type":"quantitative","scale":{"domain":[-37,46]},"axis":null}}},
 {"data":{"values":[{"p":339,"lab":"11:25:00 - 11:45:00 16/09/2003 PET BHZ"}]},"layer":[
  {"mark":{"type":"rule","color":"#ff0000","strokeWidth":1},"encoding":{"x":{"field":"p","type":"quantitative"},"y":{"datum":42},"y2":{"datum":-37}}},
  {"mark":{"type":"text","text":"P","color":"#ff0000","font":"Liberation Serif","fontSize":18,"align":"left","baseline":"alphabetic","dx":1},"encoding":{"x":{"field":"p","type":"quantitative"},"y":{"datum":21}}},
  {"mark":{"type":"text","color":"#ff0000","font":"DejaVu Sans Mono","fontSize":10,"align":"left","baseline":"bottom","dx":3},"encoding":{"text":{"field":"lab"},"x":{"datum":0},"y":{"datum":-37}}}
 ]}
]}
]
}
